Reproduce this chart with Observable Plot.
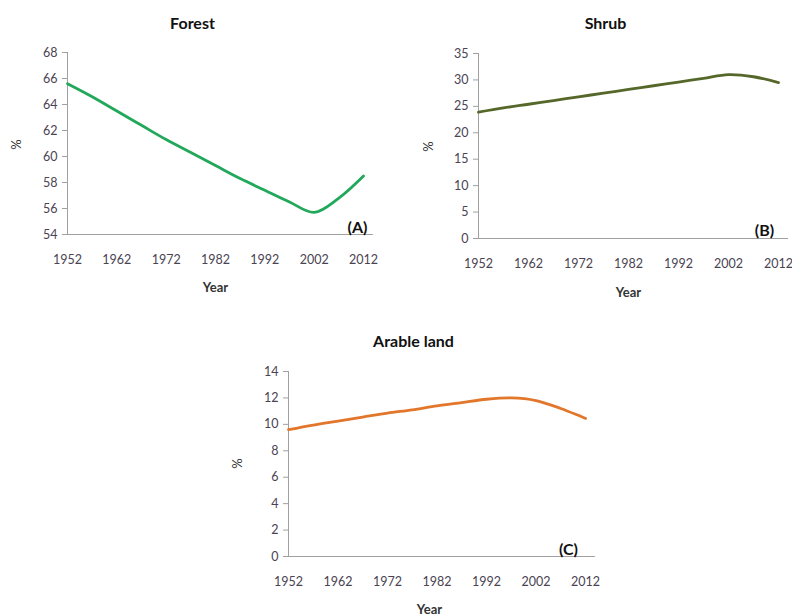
<!DOCTYPE html>
<html>
<head>
<meta charset="utf-8">
<script src="https://cdn.jsdelivr.net/npm/d3@7"></script>
<script src="https://cdn.jsdelivr.net/npm/@observablehq/plot@0.6"></script>
<style>
  html, body { margin: 0; padding: 0; background: #fff; }
  #wrap { position: relative; width: 792px; height: 616px; overflow: hidden; background: #fff; }
  .panel { position: absolute; }
  .panel svg { overflow: visible; }
</style>
</head>
<body>
<div id="wrap"></div>
<script>
// ---- data ----
const years = [1952, 1957, 1962, 1967, 1972, 1977, 1982, 1987, 1992, 1997, 2002, 2007, 2012];
const forest = [65.6, 64.6, 63.5, 62.4, 61.3, 60.3, 59.3, 58.3, 57.4, 56.5, 55.7, 56.8, 58.5];
const shrub  = [23.9, 24.7, 25.4, 26.1, 26.8, 27.5, 28.2, 28.9, 29.6, 30.3, 31.0, 30.6, 29.5];
const arable = [9.6, 9.95, 10.25, 10.55, 10.85, 11.1, 11.4, 11.65, 11.9, 12.0, 11.8, 11.2, 10.45];
const xTicks = [1952, 1962, 1972, 1982, 1992, 2002, 2012];
const titles = ["Forest", "Shrub", "Arable land"];
const tags = ["(A)", "(B)", "(C)"];
const yTicksA = [54, 56, 58, 60, 62, 64, 66, 68];
const yTicksB = [0, 5, 10, 15, 20, 25, 30, 35];
const yTicksC = [0, 2, 4, 6, 8, 10, 12, 14];

const FONT = "Lato, 'Open Sans', 'Liberation Sans', sans-serif";
const LABEL = "#4a4352";
const AXIS = "#a0a0a0";

const panels = [
  { left: 0, top: 0, width: 400, height: 300, ml: 67, mt: 52, mb: 66, mr: 37,
    values: forest, yTicks: yTicksA, color: "#22a85a", title: titles[0], tag: tags[0],
    titleXY: [192, 23], pctXY: [16, 144], yearXY: [215, 287], tagXY: [357, 227] },
  { left: 400, top: 0, width: 392, height: 310, ml: 78, mt: 53, mb: 72, mr: 14,
    values: shrub, yTicks: yTicksB, color: "#55682a", title: titles[1], tag: tags[1],
    titleXY: [605, 23], pctXY: [428, 146], yearXY: [628, 292], tagXY: [764, 230] },
  { left: 220, top: 320, width: 400, height: 296, ml: 68, mt: 51, mb: 60, mr: 35,
    values: arable, yTicks: yTicksC, color: "#e2762a", title: titles[2], tag: tags[2],
    titleXY: [413, 341], pctXY: [237, 463], yearXY: [429, 609], tagXY: [568, 549] }
];

const wrap = document.getElementById("wrap");

for (const p of panels) {
  const data = years.map((y, i) => ({ year: y, value: p.values[i] }));
  const y0 = p.yTicks[0], y1 = p.yTicks[p.yTicks.length - 1];
  const rel = ([X, Y]) => ({ dx: X - p.left - p.ml, dy: Y - p.top - p.mt });
  const ann = (txt, xy, opts) => Plot.text([txt], {
    text: d => d, frameAnchor: "top-left", textAnchor: "middle", lineAnchor: "middle",
    ...rel(xy), fontFamily: FONT, ...opts
  });
  const chart = Plot.plot({
    width: p.width, height: p.height,
    marginLeft: p.ml, marginTop: p.mt, marginBottom: p.mb, marginRight: p.mr,
    style: { fontFamily: FONT, background: "transparent", overflow: "visible" },
    x: { domain: [1952, 2012], ticks: xTicks, tickFormat: d => String(d), label: null },
    y: { domain: [y0, y1], ticks: p.yTicks, label: null },
    marks: [
      Plot.axisX({ ticks: xTicks, tickSize: 0, tickPadding: 21, tickFormat: d => String(d),
        fontSize: 12.5, fill: LABEL, label: null }),
      Plot.axisY({ ticks: p.yTicks, tickSize: 5, tickPadding: 5, fontSize: 12.5, fill: LABEL,
        stroke: AXIS, label: null }),
      Plot.ruleX([1952], { y1: y0, y2: y1, stroke: AXIS, strokeWidth: 1 }),
      Plot.ruleY([y0], { x1: 1952, x2: 2014, stroke: AXIS, strokeWidth: 1, clip: false }),
      Plot.line(data, { x: "year", y: "value", stroke: p.color, strokeWidth: 2.8, curve: "catmull-rom" }),
      ann(p.title, p.titleXY, { fontSize: 16, fontWeight: "bold", fill: "#111" }),
      ann("%", p.pctXY, { fontSize: 13, fill: "#333", rotate: -90 }),
      ann("Year", p.yearXY, { fontSize: 13, fontWeight: "bold", fill: "#333" }),
      ann(p.tag, p.tagXY, { fontSize: 16, fontWeight: "bold", fill: "#111" })
    ]
  });
  const div = document.createElement("div");
  div.className = "panel";
  div.style.left = p.left + "px";
  div.style.top = p.top + "px";
  div.style.width = p.width + "px";
  div.style.height = p.height + "px";
  div.appendChild(chart);
  wrap.appendChild(div);
}
</script>
</body>
</html>
